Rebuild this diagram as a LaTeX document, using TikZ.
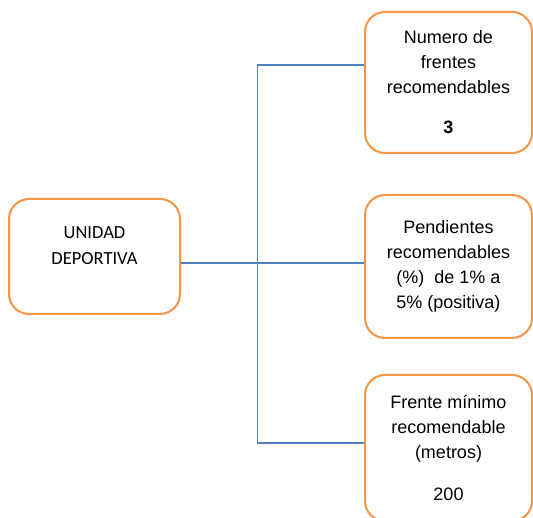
\documentclass[tikz,border=0pt]{standalone}
\usepackage{fontspec}
\setmainfont{Liberation Sans}
\newfontfamily\calfont{Carlito}
\definecolor{boxorange}{HTML}{F79646}
\definecolor{lineblue}{HTML}{4F81BD}
\begin{document}
\begin{tikzpicture}[x=1pt,y=-1pt,
  box/.style={draw=boxorange, line width=2pt, rounded corners=20pt, fill=white,
    align=center, inner sep=0pt},
  rtext/.style={font=\fontsize{18}{25}\selectfont},
  ltext/.style={font=\calfont\fontsize{18.5}{26}\selectfont},
  conn/.style={draw=lineblue, line width=1.2pt}]
\useasboundingbox (0,0) rectangle (533,518);
\clip (0,0) rectangle (533,518);
\node[box, ltext, minimum width=171pt, minimum height=115pt] (left) at (94.5,256.5)
  {UNIDAD\\DEPORTIVA\\[-4pt]\mbox{}};
\node[box, rtext, minimum width=167pt, minimum height=141pt] (top) at (448.5,82.5)
  {Numero de\\frentes\\recomendables\\[15pt]\textbf{3}};
\node[box, rtext, minimum width=167pt, minimum height=143pt] (mid) at (448.5,266.5)
  {Pendientes\\recomendables\\(\%)\ \ de 1\% a\\5\% (positiva)};
\node[box, rtext, minimum width=167pt, minimum height=146pt] (bot) at (448.5,448)
  {Frente mínimo\\recomendable\\(metros)\\[17pt]200};
\coordinate (jt) at (257.5,65);
\coordinate (jm) at (257.5,263);
\coordinate (jb) at (257.5,443);
\draw[conn] (jt -| top.west) -- (jt) -- (jb) -- (jb -| bot.west);
\draw[conn] (jm -| left.east) -- (jm -| mid.west);
\end{tikzpicture}
\end{document}
